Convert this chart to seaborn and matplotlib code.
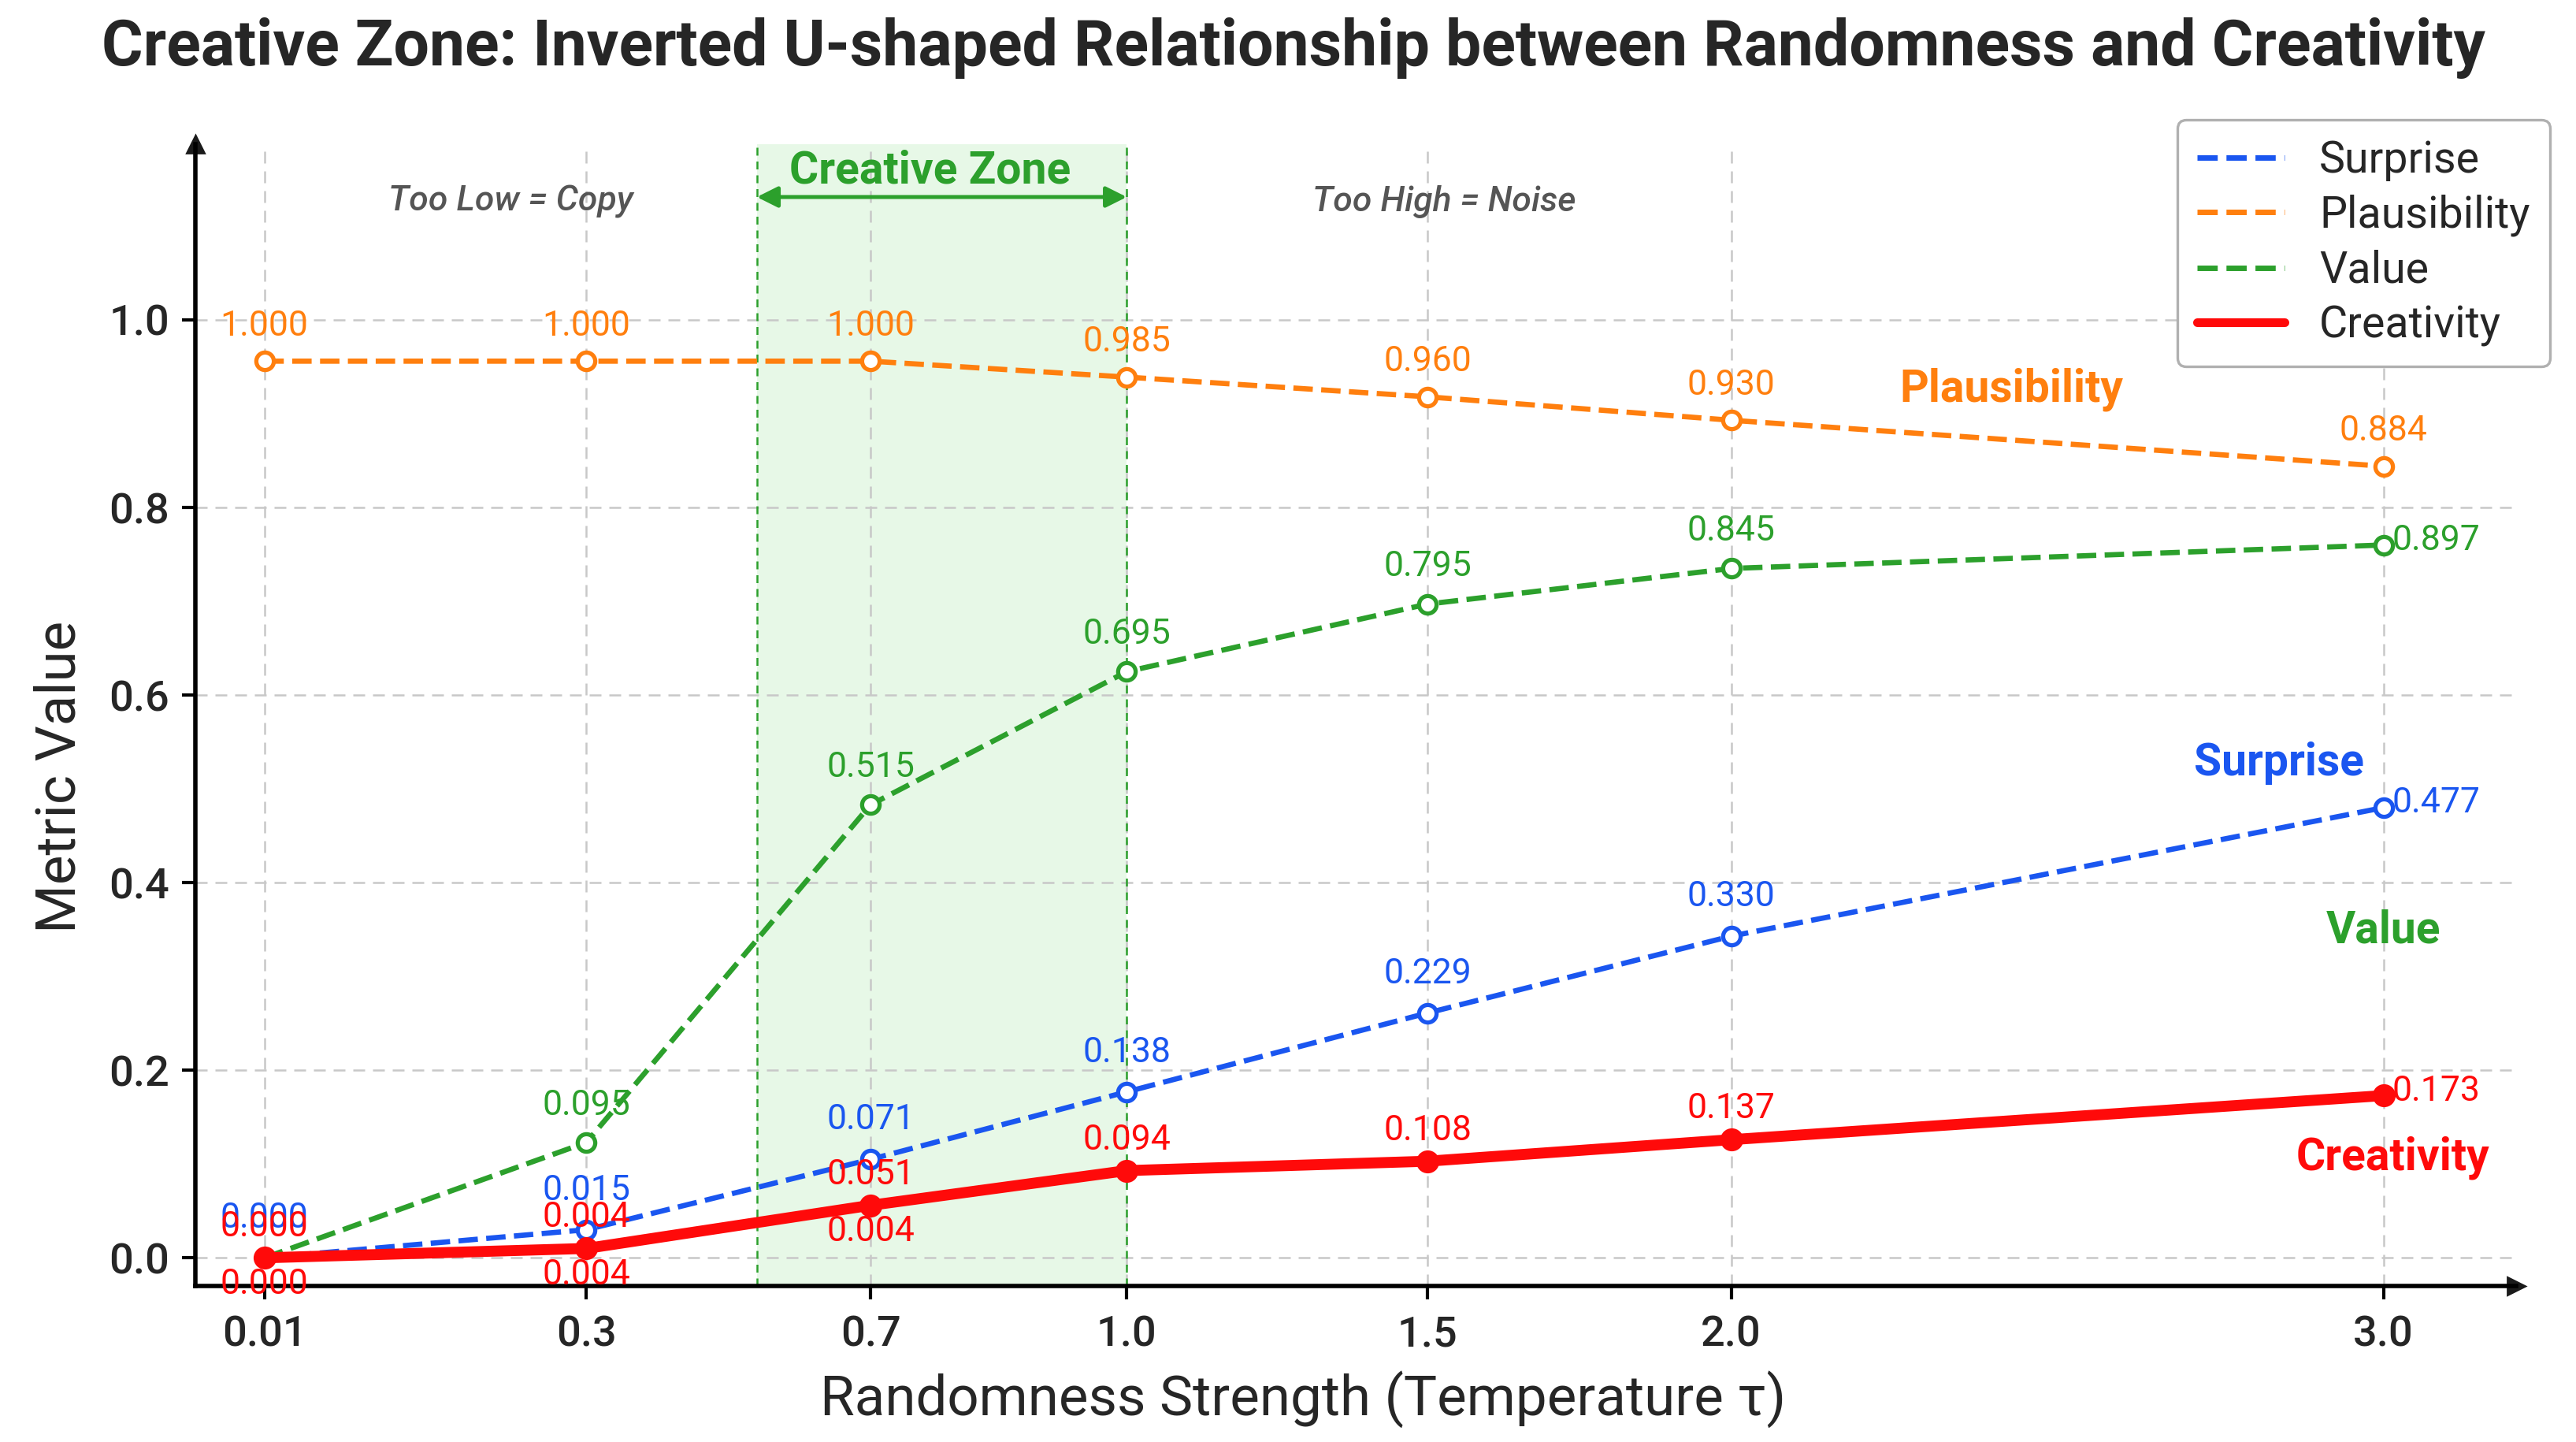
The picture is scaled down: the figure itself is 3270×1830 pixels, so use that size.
import numpy as np
import pandas as pd
import matplotlib.pyplot as plt
import seaborn as sns
from matplotlib.lines import Line2D

sns.set_theme(style="white")
plt.rcParams["font.family"] = ["Roboto", "DejaVu Sans"]

# temperature steps and metric values as drawn
tau = [0.01, 0.3, 0.7, 1.0, 1.5, 2.0, 3.0]
tick_labels = ["0.01", "0.3", "0.7", "1.0", "1.5", "2.0", "3.0"]

surprise = [0.000, 0.030, 0.105, 0.177, 0.261, 0.343, 0.480]
plausibility = [0.956, 0.956, 0.956, 0.939, 0.918, 0.893, 0.844]
value = [0.000, 0.123, 0.483, 0.625, 0.697, 0.735, 0.760]
creativity = [0.000, 0.010, 0.056, 0.093, 0.103, 0.126, 0.173]

# printed labels next to the points
surprise_lbl = ["0.000", "0.015", "0.071", "0.138", "0.229", "0.330", "0.477"]
plaus_lbl = ["1.000", "1.000", "1.000", "0.985", "0.960", "0.930", "0.884"]
value_lbl = ["", "0.095", "0.515", "0.695", "0.795", "0.845", "0.897"]
crea_lbl = ["0.000", "0.004", "0.051", "0.094", "0.108", "0.137", "0.173"]
crea_low_lbl = ["0.000", "0.004", "0.004"]

zone = (0.54, 1.0)

BLUE = "#1a56f0"
ORANGE = "#ff7f0e"
GREEN = "#2ca02c"
RED = "#ff0a0a"

# warped x axis: where each tau step sits (layout only)
tick_pos = [161, 357, 530, 686, 869, 1054, 1451]
ext_t = np.array([-5.0] + tau + [8.0])
ext_p = np.array([161 - 5.01 * 676] + tick_pos + [1451 + 5.0 * 397])


def fwd(x):
    return np.interp(np.asarray(x, float), ext_t, ext_p)


def inv(p):
    return np.interp(np.asarray(p, float), ext_p, ext_t)


df = pd.DataFrame({"tau": tau, "Surprise": surprise, "Plausibility": plausibility,
                   "Value": value, "Creativity": creativity})

fig = plt.figure(figsize=(16.35, 9.15), dpi=200)
ax = fig.add_axes([0.0759, 0.1082, 0.901, 0.7916])
ax.set_xscale("function", functions=(fwd, inv))

ax.axvspan(*zone, color="#7ddc7d", alpha=0.18, lw=0, zorder=0)
for xz in zone:
    ax.axvline(xz, color=GREEN, ls=(0, (4, 3)), lw=0.9, zorder=1)

dashed = dict(linestyle="--", linewidth=2.4, marker="o", markersize=8,
              markerfacecolor="white", markeredgewidth=1.9, zorder=3)
sns.lineplot(data=df, x="tau", y="Surprise", ax=ax, color=BLUE,
             markeredgecolor=BLUE, **dashed)
sns.lineplot(data=df, x="tau", y="Plausibility", ax=ax, color=ORANGE,
             markeredgecolor=ORANGE, **dashed)
sns.lineplot(data=df, x="tau", y="Value", ax=ax, color=GREEN,
             markeredgecolor=GREEN, **dashed)
sns.lineplot(data=df, x="tau", y="Creativity", ax=ax, color=RED, linewidth=5,
             marker="o", markersize=10.5, markeredgewidth=0, zorder=4)

LBL = 16


def label_points(ys, labels, color, dy, right_last=True):
    for i, (x, y, t) in enumerate(zip(tau, ys, labels)):
        if not t:
            continue
        if right_last and i == len(tau) - 1:
            ax.annotate(t, (x, y), xytext=(24, 2), textcoords="offset points",
                        ha="center", va="center", color=color, fontsize=LBL, zorder=6)
        else:
            ax.annotate(t, (x, y), xytext=(0, dy), textcoords="offset points",
                        ha="center", va="center", color=color, fontsize=LBL, zorder=6)


label_points(surprise, surprise_lbl, BLUE, 18)
label_points(plausibility, plaus_lbl, ORANGE, 16, right_last=False)
label_points(value, value_lbl, GREEN, 17)
label_points(creativity, crea_lbl, RED, 14)
for x, y, t in zip(tau, creativity, crea_low_lbl):
    ax.annotate(t, (x, y), xytext=(0, -12), textcoords="offset points",
                ha="center", va="center", color=RED, fontsize=LBL, zorder=6)

# series names
NAME = 20.5
ax.text(2.43, 0.926, "Plausibility", color=ORANGE, fontsize=NAME, fontweight="bold",
        ha="center", va="center")
ax.text(2.84, 0.527, "Surprise", color=BLUE, fontsize=NAME, fontweight="bold",
        ha="center", va="center")
ax.text(3.0, 0.349, "Value", color=GREEN, fontsize=NAME, fontweight="bold",
        ha="center", va="center")
ax.text(3.015, 0.107, "Creativity", color=RED, fontsize=NAME, fontweight="bold",
        ha="center", va="center")

# zone annotations
ax.text(sum(zone) / 2, 1.159, "Creative Zone", color=GREEN, fontsize=20.5,
        fontweight="bold", ha="center", va="center")
ax.annotate("", xy=(zone[0], 1.131), xytext=(zone[1], 1.131),
            arrowprops=dict(arrowstyle="<|-|>", color=GREEN, lw=1.8,
                            mutation_scale=20, shrinkA=0, shrinkB=0))
ax.text(0.232, 1.126, "Too Low = Copy", color="#555555", fontsize=16,
        style="italic", fontweight="medium", ha="center", va="center")
ax.text(1.527, 1.126, "Too High = Noise", color="#555555", fontsize=16,
        style="italic", fontweight="medium", ha="center", va="center")

ax.set_xlim(-0.052, 3.204)
ax.set_ylim(-0.03, 1.187)
ax.set_xticks(tau)
ax.set_xticklabels(tick_labels)
ax.set_yticks([0.0, 0.2, 0.4, 0.6, 0.8, 1.0])
ax.set_yticklabels(["0.0", "0.2", "0.4", "0.6", "0.8", "1.0"])
ax.grid(True, linestyle=(0, (6, 4)), color="#c8c8c8", linewidth=0.9)
ax.tick_params(axis="both", labelsize=19.5, length=6, width=1.5, color="black",
               bottom=True, left=True)
ax.tick_params(axis="x", pad=7)
ax.tick_params(axis="y", pad=6)
for lab in ax.get_xticklabels() + ax.get_yticklabels():
    lab.set_fontweight("medium")

for side in ["top", "right"]:
    ax.spines[side].set_visible(False)
for side in ["left", "bottom"]:
    ax.spines[side].set_color("black")
    ax.spines[side].set_linewidth(2.0)
ax.plot(1, 0, ">k", markersize=8, transform=ax.transAxes, clip_on=False)
ax.plot(0, 1, "^k", markersize=8, transform=ax.transAxes, clip_on=False)

ax.set_xlabel("")
fig.text(793 / 1568, 1 - 852 / 878, "Randomness Strength (Temperature τ)",
         fontsize=25.5, ha="center", va="center")
ax.set_ylabel("Metric Value", fontsize=25.5)
ax.yaxis.set_label_coords(-0.047, 0.446)
fig.suptitle("Creative Zone: Inverted U-shaped Relationship between Randomness and Creativity",
             fontsize=29, fontweight="bold", x=0.502, y=0.988)

handles = [Line2D([], [], color=BLUE, ls="--", lw=2.5),
           Line2D([], [], color=ORANGE, ls="--", lw=2.5),
           Line2D([], [], color=GREEN, ls="--", lw=2.5),
           Line2D([], [], color=RED, ls="-", lw=4)]
leg = fig.legend(handles, ["Surprise", "Plausibility", "Value", "Creativity"],
                 loc="upper right", bbox_to_anchor=(1552 / 1568, 1 - 73 / 878),
                 borderaxespad=0, fontsize=20, frameon=True, framealpha=1,
                 edgecolor="#b0b0b0", handlelength=2.0, labelspacing=0.3,
                 borderpad=0.45)
leg.get_frame().set_linewidth(1.2)

fig.savefig("out.png", dpi=200, facecolor="white")
